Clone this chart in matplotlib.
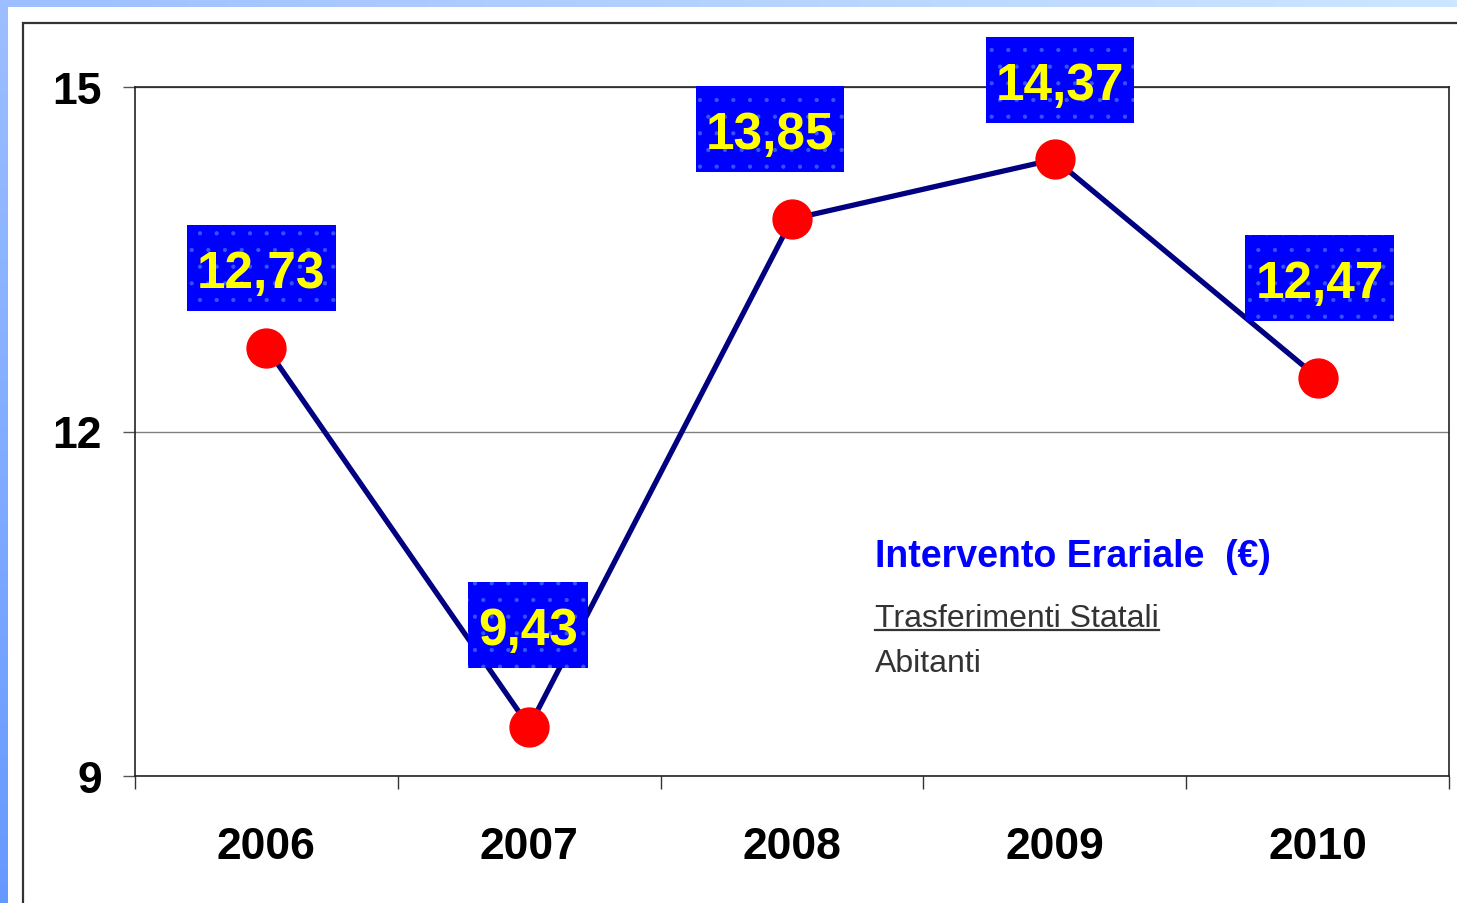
import numpy as np
import matplotlib
matplotlib.use("Agg")
import matplotlib.pyplot as plt
from matplotlib.patches import Rectangle
from matplotlib.lines import Line2D
from matplotlib.colors import LinearSegmentedColormap

plt.rcParams['font.family'] = ['Liberation Sans', 'DejaVu Sans']
plt.rcParams['hatch.linewidth'] = 0.6

# Data
years = ['2006', '2007', '2008', '2009', '2010']
values = [12.73, 9.43, 13.85, 14.37, 12.47]
labels = ['12,73', '9,43', '13,85', '14,37', '12,47']

W, H = 1457, 904
fig = plt.figure(figsize=(W / 100, H / 100), dpi=100)
fig.patch.set_facecolor('white')

def px(x, y):
    # pixel coords (top-left origin) -> figure fraction
    return x / W, 1 - y / H

# light blue strips at top and left
top = fig.add_axes([0, 1 - 8 / H, 1, 8 / H])
top.imshow(np.linspace(0, 1, 256)[None, :], aspect='auto',
           cmap=LinearSegmentedColormap.from_list('t', ['#9DBFFF', '#CDE6FF']))
top.axis('off')
left = fig.add_axes([0, 0, 8 / W, 1])
left.imshow(np.linspace(0, 1, 256)[:, None], aspect='auto',
            cmap=LinearSegmentedColormap.from_list('l', ['#9DBFFF', '#6699FF']))
left.axis('off')

# outer frame of the chart area
x0, y0 = px(23, 24)
fig.add_artist(Rectangle((x0, -0.05), 1.1, y0 + 0.05, transform=fig.transFigure,
                         fill=False, edgecolor='#333333', linewidth=1.6))

# main axes
l, b = px(135, 777)
r, t = px(1449, 88)
ax = fig.add_axes([l, b, r - l, t - b])
xs = np.arange(len(years))
ax.plot(xs, values, color='#000080', linewidth=3.8, zorder=3)
ax.plot(xs, values, 'o', color='#FF0000', markersize=28, zorder=4)

ax.set_xlim(-0.5, len(years) - 0.5)
ax.set_ylim(9, 15)
ax.set_yticks([9, 12, 15])
ax.set_yticklabels(['9', '12', '15'], fontsize=32, fontweight='bold')
ax.set_xticks(xs)
ax.set_xticklabels(years, fontsize=32, fontweight='bold')
ax.set_xticks(np.arange(-0.5, len(years)), minor=True)
ax.tick_params(axis='x', which='major', length=0, pad=36)
ax.tick_params(axis='x', which='minor', length=9, width=1, color='#333333')
ax.tick_params(axis='y', length=9, width=1, color='#555555', pad=15)
ax.yaxis.grid(True, color='#808080', linewidth=1)
ax.set_axisbelow(True)
for s in ax.spines.values():
    s.set_color('#222222')
    s.set_linewidth(1.2)

# value labels (text first, boxes sized afterwards)
offsets = [(-5, 80), (-1, 102), (-22, 90), (5, 79), (2, 100)]
texts = []
for x, v, lab, (dx, dy) in zip(xs, values, labels, offsets):
    tt = ax.annotate(lab, (x, v), xytext=(dx * 0.72, (dy - 19) * 0.72),
                     textcoords='offset points', ha='center', va='baseline',
                     fontsize=37, fontweight='bold', color='#FFFF00', zorder=6,
                     annotation_clip=False)
    texts.append(tt)

# legend-like text block
tx, ty = px(875, 567)
fig.text(tx, ty, 'Intervento Erariale  (€)', color='#0000FF', fontsize=27,
         fontweight='bold', va='baseline')
tx, ty = px(875, 627)
t2 = fig.text(tx, ty, 'Trasferimenti Statali', color='#333333', fontsize=23, va='baseline')
tx, ty = px(875, 672)
fig.text(tx, ty, 'Abitanti', color='#333333', fontsize=23, va='baseline')

fig.canvas.draw()
bb = t2.get_window_extent()
ux0, uy = px(875, 631)
fig.add_artist(Line2D([ux0, bb.x1 / W], [uy, uy], transform=fig.transFigure,
                      color='#333333', linewidth=1.6))

# blue dotted boxes behind the value labels
for x, v, tt, (dx, dy) in zip(xs, values, texts, offsets):
    cx, cy = ax.transData.transform((x, v))
    tb = tt.get_window_extent()
    bw = tb.width + 20
    bh = 86
    box = Rectangle((cx + dx - bw / 2, cy + dy - bh / 2), bw, bh, transform=None,
                    facecolor='#0000FF', edgecolor='#3355FF', linewidth=0,
                    hatch='.', zorder=5, clip_on=False)
    ax.add_artist(box)

fig.savefig('out.png', dpi=100)
